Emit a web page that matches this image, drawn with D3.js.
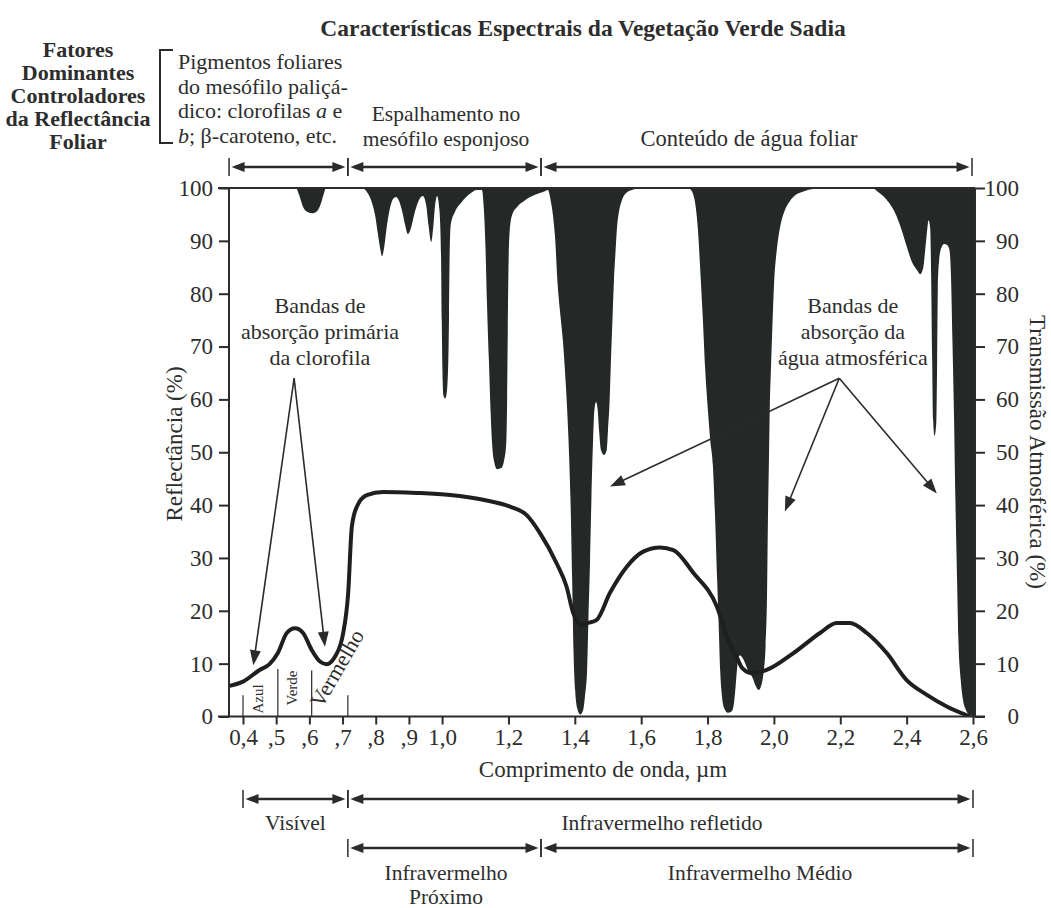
<!DOCTYPE html>
<html lang="pt">
<head>
<meta charset="utf-8">
<title>Características Espectrais da Vegetação Verde Sadia</title>
<script src="https://cdn.jsdelivr.net/npm/d3@7/dist/d3.min.js"></script>
<style>
  html, body { margin: 0; padding: 0; background: #ffffff; }
  svg { display: block; }
  text { font-family: "Liberation Serif", "Times New Roman", serif; fill: #2d2d2d; }
</style>
</head>
<body>
<svg id="chart" width="1051" height="908"></svg>
<script>
// ---- Leaf reflectance of healthy green vegetation (%), by wavelength (µm)
const leafWavelength = [0.36, 0.40, 0.45, 0.48, 0.505, 0.532, 0.557, 0.581, 0.607, 0.632, 0.652, 0.677,
  0.702, 0.717, 0.728, 0.743, 0.773, 0.822, 0.924, 1.024, 1.124, 1.205, 1.255, 1.295, 1.345, 1.375,
  1.395, 1.419, 1.440, 1.466, 1.506, 1.556, 1.606, 1.657, 1.697, 1.757, 1.828, 1.862, 1.889, 1.904,
  1.934, 1.978, 2.059, 2.139, 2.189, 2.229, 2.280, 2.340, 2.400, 2.461, 2.521, 2.591];
const leafReflectance = [5.8, 6.6, 8.8, 9.9, 12.0, 15.8, 16.7, 15.8, 12.6, 10.4, 9.9, 11.3,
  15.8, 23.4, 35.9, 39.7, 41.9, 42.5, 42.3, 41.9, 41.0, 39.7, 38.1, 34.7, 29.0, 24.6,
  19.6, 17.3, 17.7, 18.3, 23.4, 28.3, 31.2, 32.0, 31.5, 27.2, 20.8, 14.5, 11.1, 9.2,
  8.2, 8.8, 12.0, 15.8, 17.7, 17.7, 15.8, 12.0, 6.9, 4.1, 1.9, 0.0];

// ---- Atmospheric transmission (%), by wavelength (µm)
const atmWavelength = [0.358, 0.555, 0.560, 0.569, 0.581, 0.596, 0.608, 0.623, 0.635, 0.644, 0.650,
  0.759, 0.774, 0.786, 0.798, 0.807, 0.814, 0.819, 0.825, 0.834, 0.843, 0.852, 0.861, 0.870, 0.879,
  0.888, 0.897, 0.906, 0.918, 0.930, 0.942, 0.952, 0.959, 0.967, 0.973, 0.979, 0.985,
  0.992, 0.997, 0.999, 1.001, 1.004, 1.009, 1.013, 1.018, 1.021, 1.023, 1.026, 1.039, 1.060, 1.084, 1.105,
  1.120, 1.126, 1.131, 1.135, 1.141, 1.146, 1.150, 1.156, 1.166, 1.178, 1.187, 1.193, 1.196, 1.198,
  1.200, 1.204, 1.211, 1.226, 1.250, 1.280, 1.310,
  1.319, 1.327, 1.334, 1.340, 1.348, 1.355, 1.364, 1.373, 1.381, 1.387, 1.392, 1.396, 1.401, 1.407,
  1.416, 1.425, 1.431, 1.437, 1.441, 1.446, 1.450, 1.455, 1.459, 1.464, 1.469, 1.473, 1.479, 1.488,
  1.496, 1.500, 1.505, 1.509, 1.514, 1.518, 1.523, 1.527, 1.533, 1.542, 1.554, 1.572, 1.600, 1.735,
  1.747, 1.756, 1.763, 1.771, 1.778, 1.786, 1.793, 1.801, 1.808, 1.816, 1.823, 1.829, 1.834, 1.838,
  1.843, 1.850, 1.861, 1.873, 1.880, 1.885, 1.890, 1.897, 1.909, 1.924, 1.936, 1.945, 1.954, 1.963,
  1.969, 1.975, 1.979, 1.982, 1.985, 1.988, 1.991, 1.995, 2.001, 2.007, 2.013, 2.022, 2.033, 2.048,
  2.066, 2.091, 2.118, 2.150, 2.298,
  2.311, 2.329, 2.347, 2.365, 2.383, 2.401, 2.416, 2.431, 2.441, 2.450, 2.456, 2.462, 2.466, 2.471,
  2.474, 2.477, 2.480, 2.484, 2.489, 2.492, 2.494, 2.498, 2.504, 2.513, 2.522, 2.529, 2.534, 2.538,
  2.543, 2.547, 2.552, 2.556, 2.563, 2.570, 2.579, 2.590, 2.606];
const atmTransmission = [100, 100, 100, 98.7, 96.4, 95.4, 95.2, 95.6, 97.1, 99.0, 100,
  100, 99.2, 97.7, 94.9, 91.1, 88.3, 87.1, 88.6, 93.0, 96.2, 97.9, 98.3, 97.6, 95.8,
  93.2, 91.3, 92.4, 95.5, 97.7, 98.5, 96.8, 93.0, 89.8, 92.4, 96.8, 98.5,
  95.8, 86.4, 75.0, 65.6, 60.8, 60.2, 60.8, 65.6, 76.3, 88.3, 93.0, 95.5, 97.4, 98.9, 99.6,
  99.6, 95.9, 88.3, 78.8, 67.5, 58.0, 52.3, 48.5, 46.8, 47.0, 48.5, 51.4, 59.9, 73.1,
  84.5, 92.1, 94.9, 96.4, 97.7, 98.7, 99.4,
  99.6, 97.7, 94.9, 91.1, 82.0, 76.9, 71.2, 62.7, 52.3, 41.0, 25.8, 12.6, 5.0, 1.6,
  0.4, 1.2, 4.1, 8.8, 18.3, 29.6, 41.0, 52.3, 58.0, 59.5, 58.0, 54.2, 50.4, 49.5,
  50.4, 54.2, 59.9, 67.5, 76.0, 82.6, 88.3, 92.4, 95.5, 97.7, 99.0, 99.6, 100, 100,
  99.8, 98.9, 97.0, 92.1, 84.5, 75.0, 65.6, 58.0, 52.3, 47.6, 37.2, 25.8, 16.4, 8.8,
  4.1, 1.6, 0.7, 1.0, 2.7, 6.0, 9.7, 11.6, 10.7, 8.4, 7.3, 5.8, 5.0, 6.1,
  8.4, 13.5, 22.0, 37.2, 48.5, 59.9, 65.6, 73.1, 82.6, 87.3, 90.5, 93.6, 95.8, 97.5,
  98.7, 99.4, 99.8, 100, 100,
  99.4, 98.5, 97.2, 95.3, 92.4, 88.8, 86.0, 84.5, 83.7, 84.9, 88.3, 92.1, 93.9, 92.4,
  82.6, 67.5, 56.1, 53.1, 55.2, 67.5, 80.7, 86.4, 88.6, 89.4, 89.2, 88.3, 82.6, 71.2,
  56.1, 41.0, 25.8, 14.5, 6.9, 3.1, 1.2, 0.3, 0];

// ---- Axis ticks
const xTickValues = [0.4, 0.5, 0.6, 0.7, 0.8, 0.9, 1.0, 1.2, 1.4, 1.6, 1.8, 2.0, 2.2, 2.4, 2.6];
const xTickLabels = ["0,4", ",5", ",6", ",7", ",8", ",9", "1,0", "1,2", "1,4", "1,6", "1,8", "2,0", "2,2", "2,4", "2,6"];
const yTickValues = [0, 10, 20, 30, 40, 50, 60, 70, 80, 90, 100];

// ---- Visible sub-bands at the foot of the curve
const colourBandEdges = [0.4, 0.505, 0.607, 0.716];
const colourBandEdgeHeights = [4, 9, 8.7, 4];

// ---- Region spans (µm)
const factorSpans = [[0.358, 0.716], [0.716, 1.298], [1.298, 2.597]];
const spectrumRow1 = [[0.4, 0.716], [0.716, 2.6]];
const spectrumRow2 = [[0.716, 1.298], [1.298, 2.6]];

// ---- Pointer annotations: apex and targets in (µm, %)
const chlorophyllApex = [0.554, 64];
const chlorophyllTargets = [[0.431, 9.7], [0.647, 13.2]];
const waterApex = [2.197, 64];
const waterTargets = [[1.506, 43.5], [2.033, 38.8], [2.491, 42.2]];

// =====================================================================
const ink = "#2b2b2b";
const bandFill = "#242928";
const svg = d3.select("#chart");

const plotLeft = 229, plotRight = 975;
const x = d3.scaleLinear().domain([0.4, 2.6]).range([243, 973]);
const y = d3.scaleLinear().domain([0, 100]).range([716.5, 188]);

svg.append("defs").append("clipPath").attr("id", "plotClip")
  .append("rect").attr("x", plotLeft).attr("y", y(100))
  .attr("width", plotRight - plotLeft).attr("height", y(0) - y(100));

// Atmospheric absorption drawn as black hanging from the 100 % line
const atm = atmWavelength.map((w, i) => ({ w, t: atmTransmission[i] }));
svg.append("path")
  .datum(atm)
  .attr("clip-path", "url(#plotClip)")
  .attr("fill", bandFill)
  .attr("d", d3.area()
    .x(d => x(d.w))
    .y0(y(100))
    .y1(d => y(d.t))
    .curve(d3.curveMonotoneX));

// Leaf reflectance curve
const leaf = leafWavelength.map((w, i) => ({ w, r: leafReflectance[i] }));
svg.append("path")
  .datum(leaf)
  .attr("clip-path", "url(#plotClip)")
  .attr("fill", "none")
  .attr("stroke", "#1f1f1f")
  .attr("stroke-width", 4)
  .attr("stroke-linejoin", "round")
  .attr("d", d3.line()
    .x(d => x(d.w))
    .y(d => y(d.r))
    .curve(d3.curveMonotoneX));

// Frame
const frame = svg.append("g").attr("stroke", ink).attr("stroke-width", 2).attr("fill", "none");
frame.append("line").attr("x1", 218).attr("x2", plotRight).attr("y1", y(100)).attr("y2", y(100));
frame.append("line").attr("x1", 218).attr("x2", 985).attr("y1", y(0)).attr("y2", y(0));
frame.append("line").attr("x1", plotLeft).attr("x2", plotLeft).attr("y1", y(100)).attr("y2", y(0));
frame.append("line").attr("x1", plotRight).attr("x2", plotRight).attr("y1", y(100)).attr("y2", y(0));

function styleAxis(g, size) {
  g.select(".domain").remove();
  g.selectAll(".tick line").attr("stroke", ink).attr("stroke-width", 2);
  g.selectAll(".tick text").attr("fill", ink).style("font-size", size + "px")
    .style("font-family", '"Liberation Serif", serif');
}

// Left axis
svg.append("g").attr("transform", `translate(${plotLeft},0)`)
  .call(d3.axisLeft(y).tickValues(yTickValues).tickSize(10).tickPadding(6).tickFormat(d3.format("d")))
  .call(g => styleAxis(g, 23));

// Right axis, labels right-aligned
svg.append("g").attr("transform", `translate(${plotRight},0)`)
  .call(d3.axisRight(y).tickValues(yTickValues).tickSize(10).tickPadding(6).tickFormat(d3.format("d")))
  .call(g => styleAxis(g, 23))
  .call(g => g.selectAll(".tick text").attr("text-anchor", "end").attr("x", 44));

// Bottom axis
svg.append("g").attr("transform", `translate(0,${y(0)})`)
  .call(d3.axisBottom(x).tickValues(xTickValues).tickSize(8).tickPadding(4)
    .tickFormat((d, i) => xTickLabels[i]))
  .call(g => styleAxis(g, 23));

// Axis titles
svg.append("text").attr("transform", `translate(182,444) rotate(-90)`)
  .attr("text-anchor", "middle").style("font-size", "23px").text("Reflectância (%)");
svg.append("text").attr("transform", `translate(1030,452) rotate(90)`)
  .attr("text-anchor", "middle").style("font-size", "23px").text("Transmissão Atmosférica (%)");
svg.append("text").attr("x", 603).attr("y", 777)
  .attr("text-anchor", "middle").style("font-size", "23px").text("Comprimento de onda, µm");

// Visible sub-bands
const subBands = svg.append("g");
colourBandEdges.forEach((w, i) => {
  subBands.append("line").attr("x1", x(w)).attr("x2", x(w))
    .attr("y1", y(0)).attr("y2", y(colourBandEdgeHeights[i]))
    .attr("stroke", ink).attr("stroke-width", 1.2);
});
subBands.append("text").attr("transform", `translate(${x(0.46)},699) rotate(-90)`)
  .attr("text-anchor", "middle").style("font-size", "15px").text("Azul");
subBands.append("text").attr("transform", `translate(${x(0.562)},688) rotate(-90)`)
  .attr("text-anchor", "middle").style("font-size", "15px").text("Verde");
subBands.append("text").attr("transform", `translate(${x(0.638)},709) rotate(-60)`)
  .style("font-size", "22px").text("Vermelho");

// Arrow helpers
function head(g, x0, y0, x1, y1, len = 13, half = 5) {
  const dx = x1 - x0, dy = y1 - y0, L = Math.hypot(dx, dy), ux = dx / L, uy = dy / L;
  const bx = x1 - ux * len, by = y1 - uy * len;
  g.append("path")
    .attr("d", `M${x1},${y1}L${bx - uy * half},${by + ux * half}L${bx + uy * half},${by - ux * half}Z`)
    .attr("fill", ink);
}
function pointer(g, p0, p1) {
  const x0 = x(p0[0]), y0 = y(p0[1]), x1 = x(p1[0]), y1 = y(p1[1]);
  const L = Math.hypot(x1 - x0, y1 - y0);
  const ex = x1 - (x1 - x0) / L * 10, ey = y1 - (y1 - y0) / L * 10;
  g.append("line").attr("x1", x0).attr("y1", y0).attr("x2", ex).attr("y2", ey)
    .attr("stroke", ink).attr("stroke-width", 1.6);
  head(g, x0, y0, x1, y1, 15, 5.5);
}
function span(g, wa, wb, yy) {
  const xa = x(wa), xb = x(wb);
  [xa, xb].forEach(xx => g.append("line").attr("x1", xx).attr("x2", xx)
    .attr("y1", yy - 9).attr("y2", yy + 9).attr("stroke", ink).attr("stroke-width", 1.5));
  g.append("line").attr("x1", xa + 6).attr("x2", xb - 6).attr("y1", yy).attr("y2", yy)
    .attr("stroke", ink).attr("stroke-width", 2.5);
  head(g, xb, yy, xa + 2.5, yy, 13, 5);
  head(g, xa, yy, xb - 2.5, yy, 13, 5);
}

// Pointers
const pointers = svg.append("g");
chlorophyllTargets.forEach(t => pointer(pointers, chlorophyllApex, t));
waterTargets.forEach(t => pointer(pointers, waterApex, t));

function block(lines, cx, baseline, lead, size, anchor = "middle", weight = "normal") {
  const t = svg.append("text").attr("text-anchor", anchor)
    .style("font-size", size + "px").style("font-weight", weight);
  lines.forEach((s, i) => t.append("tspan").attr("x", cx).attr("y", baseline + i * lead).text(s));
  return t;
}
block(["Bandas de", "absorção primária", "da clorofila"], x(0.632), 313, 26, 22);
block(["Bandas de", "absorção da", "água atmosférica"], x(2.238), 313, 26, 22);

// Title and controlling factors
svg.append("text").attr("x", 583).attr("y", 36).attr("text-anchor", "middle")
  .style("font-size", "23.5px").style("font-weight", "bold")
  .text("Características Espectrais da Vegetação Verde Sadia");
block(["Fatores", "Dominantes", "Controladores", "da Reflectância", "Foliar"], 78, 57, 23, 22, "middle", "bold");

svg.append("path").attr("d", "M173,50H160V143H173").attr("fill", "none")
  .attr("stroke", ink).attr("stroke-width", 2);
const pig = svg.append("text").style("font-size", "22px");
pig.append("tspan").attr("x", 178).attr("y", 69).text("Pigmentos foliares");
pig.append("tspan").attr("x", 178).attr("y", 94).text("do mesófilo paliçá-");
const l3 = pig.append("tspan").attr("x", 178).attr("y", 118);
l3.append("tspan").text("dico: clorofilas ");
l3.append("tspan").style("font-style", "italic").text("a");
l3.append("tspan").text(" e");
const l4 = pig.append("tspan").attr("x", 178).attr("y", 143);
l4.append("tspan").style("font-style", "italic").text("b");
l4.append("tspan").text("; β-caroteno, etc.");

block(["Espalhamento no", "mesófilo esponjoso"], 446, 121, 25, 21.5);
block(["Conteúdo de água foliar"], 749, 146, 25, 22.5);

const spans = svg.append("g");
factorSpans.forEach(s => span(spans, s[0], s[1], 167));
spectrumRow1.forEach(s => span(spans, s[0], s[1], 799));
spectrumRow2.forEach(s => span(spans, s[0], s[1], 848));

block(["Visível"], x((0.4 + 0.716) / 2), 830, 25, 21.5);
block(["Infravermelho refletido"], 662, 830, 25, 21.5);
block(["Infravermelho", "Próximo"], 446, 880, 24, 21.5);
block(["Infravermelho Médio"], 760, 880, 25, 21.5);
</script>
</body>
</html>
